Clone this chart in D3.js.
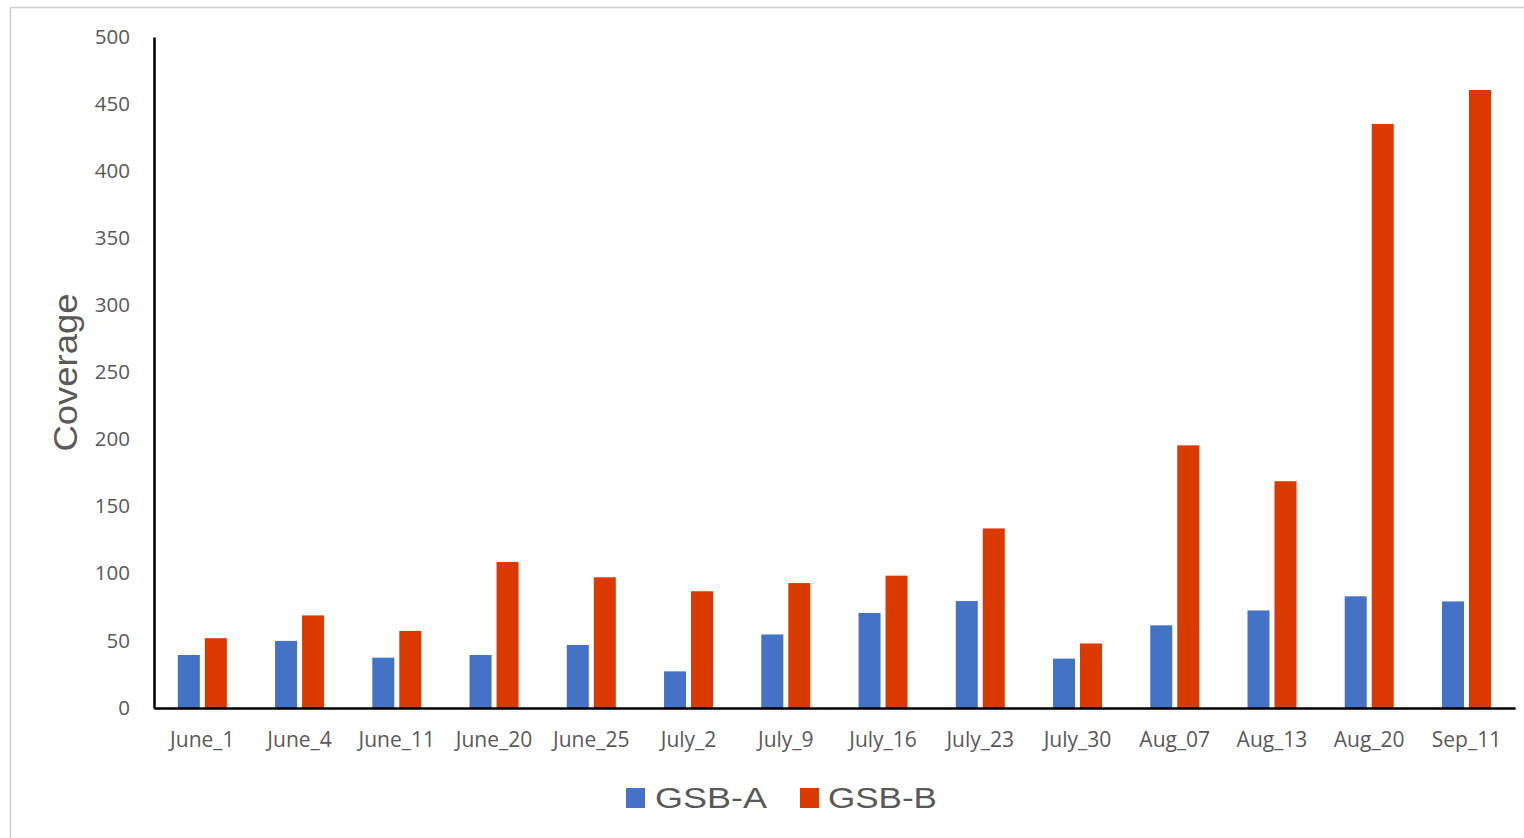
<!DOCTYPE html>
<html>
<head>
<meta charset="utf-8">
<script src="https://cdn.jsdelivr.net/npm/d3@7"></script>
<style>
  html, body { margin: 0; padding: 0; background: #fff; }
  svg { display: block; }
</style>
</head>
<body>
<svg id="chart" width="1524" height="838"></svg>
<script>
// Sampling dates
const categories = ["June_1", "June_4", "June_11", "June_20", "June_25", "July_2", "July_9",
                    "July_16", "July_23", "July_30", "Aug_07", "Aug_13", "Aug_20", "Sep_11"];
// Coverage per sample
const gsbA = [39.5, 50, 37.5, 39.5, 47, 27.3, 54.8, 70.8, 79.7, 36.8, 61.6, 72.7, 83.2, 79.4];
const gsbB = [52, 69, 57.4, 108.8, 97.4, 87, 93.1, 98.6, 133.8, 48.1, 195.7, 169, 435.2, 460.5];
const seriesNames = ["GSB-A", "GSB-B"];
const seriesColors = ["#4472C4", "#DA3A00"];
const yTicks = [0, 50, 100, 150, 200, 250, 300, 350, 400, 450, 500];

const svg = d3.select("#chart");

// light outer frame
svg.append("rect")
  .attr("x", 10.5).attr("y", 7.5)
  .attr("width", 1530).attr("height", 850)
  .attr("fill", "none")
  .attr("stroke", "#cfcfcf")
  .attr("stroke-width", 1.5);

const x0 = d3.scaleBand().domain(categories).range([153.7, 1515.1]).padding(0);
const x1 = d3.scaleBand().domain(seriesNames).range([-24.5, 24.5]).paddingInner(0.185).paddingOuter(0);
const y = d3.scaleLinear().domain([0, 500]).range([708, 37]);

const rows = categories.map((c, i) => ({ cat: c, values: [gsbA[i], gsbB[i]] }));

// bars
const groups = svg.append("g").selectAll("g")
  .data(rows).join("g")
  .attr("transform", d => `translate(${x0(d.cat) + x0.bandwidth() / 2},0)`);

groups.selectAll("rect")
  .data(d => d.values.map((v, k) => ({ name: seriesNames[k], value: v, k })))
  .join("rect")
  .attr("x", d => x1(d.name))
  .attr("width", x1.bandwidth())
  .attr("y", d => y(d.value))
  .attr("height", d => y(0) - y(d.value))
  .attr("fill", d => seriesColors[d.k]);

// y axis (line only, labels to the left)
const yAxis = svg.append("g")
  .attr("transform", "translate(154,0)")
  .call(d3.axisLeft(y).tickValues(yTicks).tickSize(0).tickPadding(24));
yAxis.select(".domain").attr("stroke", "#000").attr("stroke-width", 2.5);
yAxis.selectAll("text")
  .attr("font-family", "'Open Sans', sans-serif")
  .attr("font-size", 20.5)
  .attr("fill", "#595959")
  .attr("dy", "0.3em");

// x axis
const xAxis = svg.append("g")
  .attr("transform", "translate(0,708)")
  .call(d3.axisBottom(x0).tickSize(0).tickPadding(20));
xAxis.select(".domain").attr("stroke", "#000").attr("stroke-width", 2.5);
xAxis.selectAll("text")
  .attr("font-family", "'Open Sans', sans-serif")
  .attr("font-size", 21)
  .attr("fill", "#595959")
  .attr("dy", "0.9em");

// y axis title
svg.append("text")
  .attr("transform", "translate(77,372.5) rotate(-90)")
  .attr("text-anchor", "middle")
  .attr("font-family", "'Liberation Sans', Arial, sans-serif")
  .attr("font-size", 33)
  .attr("fill", "#595959")
  .attr("textLength", 158)
  .attr("lengthAdjust", "spacingAndGlyphs")
  .text("Coverage");

// legend
const legendItems = [
  { name: seriesNames[0], color: seriesColors[0], sx: 626, tx: 655, tw: 112 },
  { name: seriesNames[1], color: seriesColors[1], sx: 800, tx: 828, tw: 109 }
];
const legend = svg.append("g");
legend.selectAll("rect")
  .data(legendItems).join("rect")
  .attr("x", d => d.sx).attr("y", 788)
  .attr("width", 19).attr("height", 20)
  .attr("fill", d => d.color);
legend.selectAll("text")
  .data(legendItems).join("text")
  .attr("x", d => d.tx).attr("y", 808)
  .attr("font-family", "'Liberation Sans', Arial, sans-serif")
  .attr("font-size", 29.5)
  .attr("fill", "#595959")
  .attr("textLength", d => d.tw)
  .attr("lengthAdjust", "spacingAndGlyphs")
  .text(d => d.name);
</script>
</body>
</html>
